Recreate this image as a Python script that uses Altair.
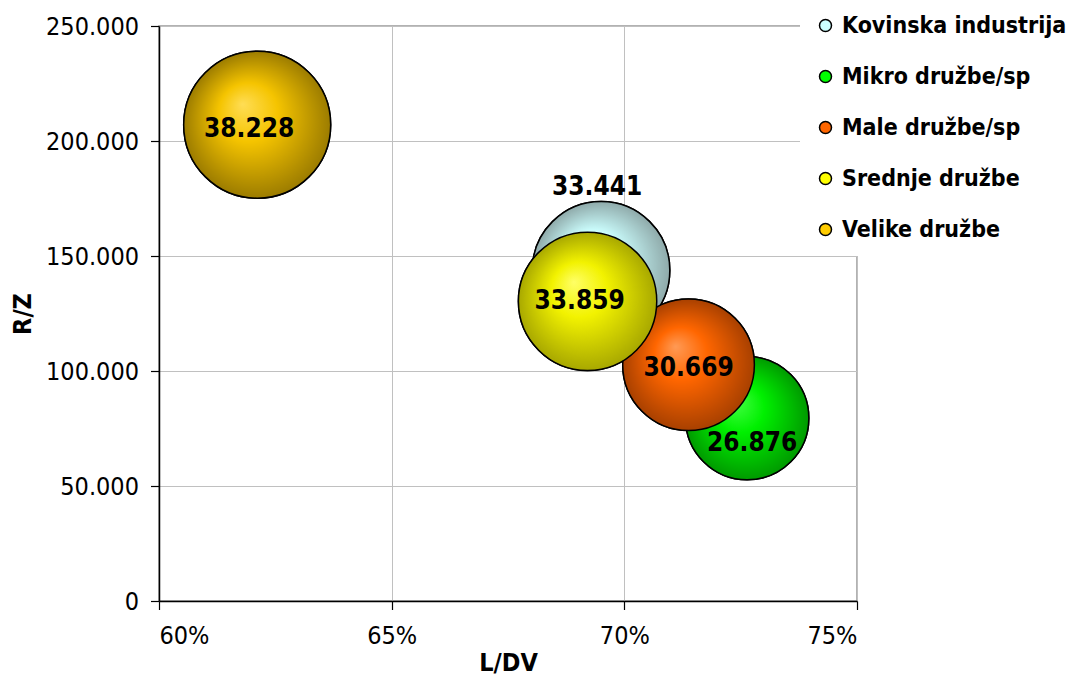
import altair as alt
import pandas as pd

# ---- data ----
series = ["Kovinska industrija", "Mikro družbe/sp", "Male družbe/sp", "Srednje družbe", "Velike družbe"]
ldv = [0.6950, 0.7264, 0.7138, 0.6921, 0.6211]          # L/DV (x)
rz = [143800, 79500, 102700, 130300, 207100]             # R/Z (y)
bubble = [33441, 26876, 30669, 33859, 38228]             # bubble size / label

# ---- styles ----
legend_colors = ["#CCFFFF", "#00FF00", "#FF6600", "#FFFF00", "#FFCC00"]
grad = {
    "Kovinska industrija": ("#EEFFFF", "#CCFFFF", "#8FAAAA"),
    "Mikro družbe/sp": ("#44FF44", "#00F000", "#009A00"),
    "Male družbe/sp": ("#FF9A55", "#FF6600", "#A84000"),
    "Srednje družbe": ("#FFFF66", "#F2F200", "#A8A800"),
    "Velike družbe": ("#FFDD55", "#F5C400", "#9C7C00"),
}
label_offsets = {
    "Kovinska industrija": (-4, -83),
    "Mikro družbe/sp": (5, 25),
    "Male družbe/sp": (0, 3),
    "Srednje družbe": (-8, 0),
    "Velike družbe": (-8, 4),
}
FONT = "DejaVu Sans Condensed, DejaVu Sans"

df = pd.DataFrame({"series": series, "ldv": ldv, "rz": rz, "bubble": bubble})

x_enc = alt.X("ldv:Q", title="L/DV",
              scale=alt.Scale(domain=[0.60, 0.75], nice=False, zero=False),
              axis=alt.Axis(format=".0%", values=[0.60, 0.65, 0.70, 0.75]))
y_enc = alt.Y("rz:Q", title="R/Z",
              scale=alt.Scale(domain=[0, 250000], nice=False),
              axis=alt.Axis(values=[0, 50000, 100000, 150000, 200000, 250000],
                            labelExpr="replace(format(datum.value, ','), regexp(',', 'g'), '.')"))
# Vega circle symbols: size = (2r)^2 ; r = 73.5 px for the largest bubble
size_enc = alt.Size("bubble:Q", legend=None,
                    scale=alt.Scale(domain=[0, 38228], range=[0, 21609], zero=True))

base = alt.Chart(df)

legend_layer = base.mark_circle(opacity=1, stroke="black", strokeWidth=1.5).encode(
    x=x_enc, y=y_enc, size=size_enc,
    color=alt.Color("series:N", sort=series,
                    scale=alt.Scale(domain=series, range=legend_colors),
                    legend=alt.Legend(title=None, orient="none", legendX=641, legendY=-26,
                                      fillColor="white", padding=14, rowPadding=27,
                                      labelFont=FONT, labelFontWeight="bold", labelFontSize=23,
                                      labelColor="black", labelOffset=5, labelLimit=0,
                                      symbolType="circle", symbolSize=144,
                                      symbolStrokeColor="black", symbolStrokeWidth=1.5,
                                      symbolOpacity=1)),
)

layers = [legend_layer]
for s in series:
    light, mid, dark = grad[s]
    fill = alt.RadialGradient(
        gradient="radial", x1=0.4, y1=0.36, r1=0.0, x2=0.5, y2=0.5, r2=0.5,
        stops=[alt.GradientStop(color=light, offset=0.0),
               alt.GradientStop(color=mid, offset=0.4),
               alt.GradientStop(color=dark, offset=1.0)])
    layers.append(
        base.transform_filter(alt.datum.series == s)
        .mark_circle(fill=fill, opacity=1, stroke="black", strokeWidth=1.5)
        .encode(x=x_enc, y=y_enc, size=size_enc)
    )

for s in series:
    dx, dy = label_offsets[s]
    layers.append(
        base.transform_filter(alt.datum.series == s)
        .transform_calculate(lab="replace(format(datum.bubble, ','), regexp(',', 'g'), '.')")
        .mark_text(font=FONT, fontWeight="bold", fontSize=26, color="black",
                   dx=dx, dy=dy, align="center", baseline="middle")
        .encode(x=x_enc, y=y_enc, text="lab:N")
    )

chart = alt.layer(*layers).properties(
    width=698, height=575,
    autosize=alt.AutoSizeParams(type="none"),
    padding={"left": 151, "top": 18, "right": 216, "bottom": 79},
    background="white",
).configure_view(
    stroke="#999999", strokeWidth=1.5
).configure_axis(
    labelFont=FONT, labelFontSize=25, labelColor="black",
    titleFont=FONT, titleFontSize=25, titleFontWeight="bold", titleColor="black",
    gridColor="#C0C0C0", gridWidth=1,
    domainColor="black", domainWidth=1.5,
    tickColor="black", tickSize=8.5, tickWidth=1.2,
).configure_axisY(
    labelPadding=12, titlePadding=10
).configure_axisX(
    labelPadding=14, titlePadding=2
)

chart.save("out.html", embed_options={"renderer": "svg", "actions": False})
